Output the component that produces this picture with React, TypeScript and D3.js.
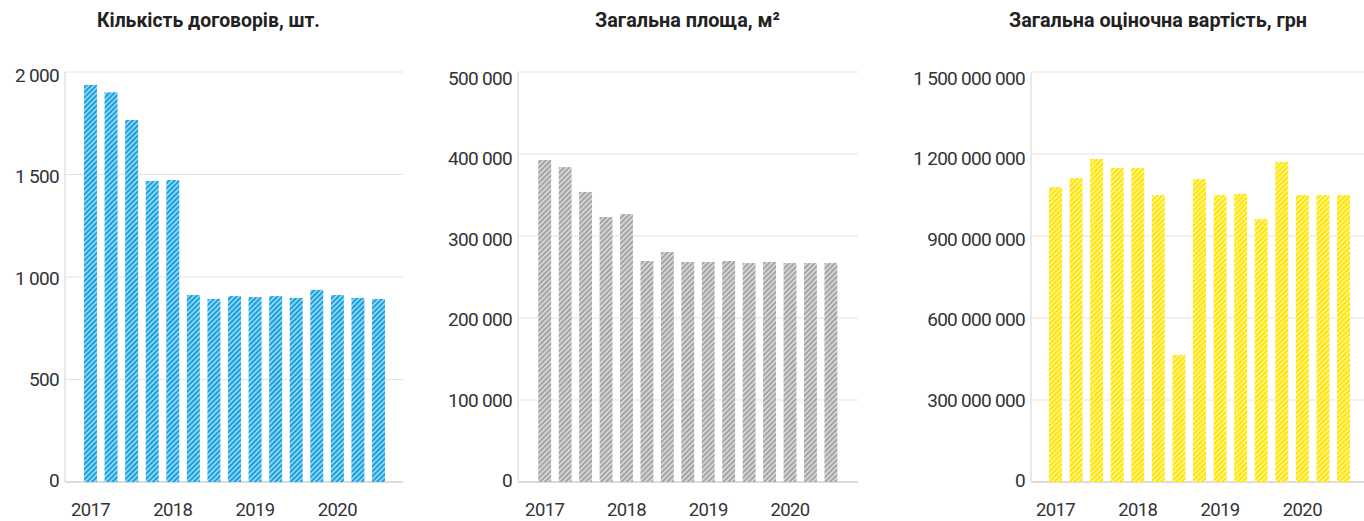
import React from "react";
import * as d3 from "d3";

const quarters = [
  "2017 Q1", "2017 Q2", "2017 Q3", "2017 Q4",
  "2018 Q1", "2018 Q2", "2018 Q3", "2018 Q4",
  "2019 Q1", "2019 Q2", "2019 Q3", "2019 Q4",
  "2020 Q1", "2020 Q2", "2020 Q3",
];
const yearLabels = ["2017", "2018", "2019", "2020"];

const contractsCount = [1937, 1901, 1766, 1468, 1473, 912, 893, 907, 902, 907, 898, 937, 912, 898, 893];
const totalArea = [392700, 384000, 353700, 323200, 326800, 269500, 280500, 268300, 268300, 269500, 267000, 268300, 267000, 267000, 267000];
const totalValue = [1079e6, 1112e6, 1182e6, 1149e6, 1149e6, 1050e6, 465e6, 1108e6, 1050e6, 1054e6, 962e6, 1171e6, 1050e6, 1050e6, 1050e6];

const ticksCount = [0, 500, 1000, 1500, 2000];
const ticksArea = [0, 100000, 200000, 300000, 400000, 500000];
const ticksValue = [0, 300e6, 600e6, 900e6, 1200e6, 1500e6];

const titles = ["Кількість договорів, шт.", "Загальна площа, м²", "Загальна оціночна вартість, грн"];

const panels = [
  { title: titles[0], values: contractsCount, ticks: ticksCount, color: "#12a0e0", id: "pb",
    axisX: 65, gridRight: 403, bandStart: 80.2, bandEnd: 388.8, titleX: 208.5, titleW: 223, labelTop: 82 },
  { title: titles[1], values: totalArea, ticks: ticksArea, color: "#a3a3a3", id: "pg",
    axisX: 518, gridRight: 858, bandStart: 534.5, bandEnd: 841.1, titleX: 687.5, titleW: 185, labelTop: 85 },
  { title: titles[2], values: totalValue, ticks: ticksValue, color: "#ffe500", id: "py",
    axisX: 1031, gridRight: 1364, bandStart: 1045.2, bandEnd: 1353.8, titleX: 1158, titleW: 298, labelTop: 85 },
];

const fmt = d3.formatLocale({ decimal: ",", thousands: " ", grouping: [3], currency: ["", ""] }).format(",d");

const TOP = 72;
const BOTTOM = 482;
const FONT = "Roboto, 'DejaVu Sans', sans-serif";

function Panel({ p }: { p: (typeof panels)[number] }) {
  const max = p.ticks[p.ticks.length - 1];
  const y = d3.scaleLinear().domain([0, max]).range([BOTTOM, TOP]);
  const yLabel = d3.scaleLinear().domain([0, max]).range([487, p.labelTop]);
  const x = d3.scaleBand<string>().domain(quarters).range([p.bandStart, p.bandEnd]).paddingInner(0.37).paddingOuter(0.185);
  return (
    <g>
      <text x={p.titleX} y={27} textAnchor="middle" fontFamily={FONT} fontWeight={700} fontSize={21}
        fill="#222" textLength={p.titleW} lengthAdjust="spacingAndGlyphs">{p.title}</text>
      {p.ticks.map((t) => (
        <g key={t}>
          <line x1={p.axisX} x2={p.gridRight} y1={y(t)} y2={y(t)} stroke={t === 0 ? "#dcdcdc" : "#e4e4e4"} strokeWidth={t === 0 ? 2 : 1.2} />
          <text x={p.axisX - 6} y={yLabel(t)} textAnchor="end" fontFamily={FONT} fontSize={19} letterSpacing={-0.7} fill="#333">{fmt(t)}</text>
        </g>
      ))}
      <line x1={p.axisX} x2={p.axisX} y1={TOP} y2={BOTTOM} stroke="#e2e2e2" strokeWidth={1.5} />
      {p.values.map((v, i) => (
        <rect key={quarters[i]} x={x(quarters[i])} y={y(v)} width={x.bandwidth()} height={BOTTOM - y(v)} fill={`url(#${p.id})`} />
      ))}
      {yearLabels.map((yr) => {
        const q = `${yr} Q1`;
        return (
          <text key={yr} x={(x(q) ?? 0) + x.bandwidth() / 2} y={515.5} textAnchor="middle" fontFamily={FONT} fontSize={18.5} letterSpacing={-0.6} fill="#333">{yr}</text>
        );
      })}
    </g>
  );
}

export default function App() {
  return (
    <div style={{ position: "absolute", left: 0, top: 0 }}>
      <svg width={1364} height={521} style={{ display: "block" }}>
        <defs>
          {panels.map((p) => (
            <pattern key={p.id} id={p.id} patternUnits="userSpaceOnUse" width={3.6} height={3.6} patternTransform="rotate(45)">
              <rect width={3.6} height={3.6} fill={p.color} />
              <line x1={0.8} x2={0.8} y1={0} y2={3.6} stroke="#fff" strokeWidth={1.2} strokeOpacity={0.8} />
            </pattern>
          ))}
        </defs>
        <rect width={1364} height={521} fill="#fff" />
        {panels.map((p) => <Panel key={p.id} p={p} />)}
      </svg>
    </div>
  );
}
